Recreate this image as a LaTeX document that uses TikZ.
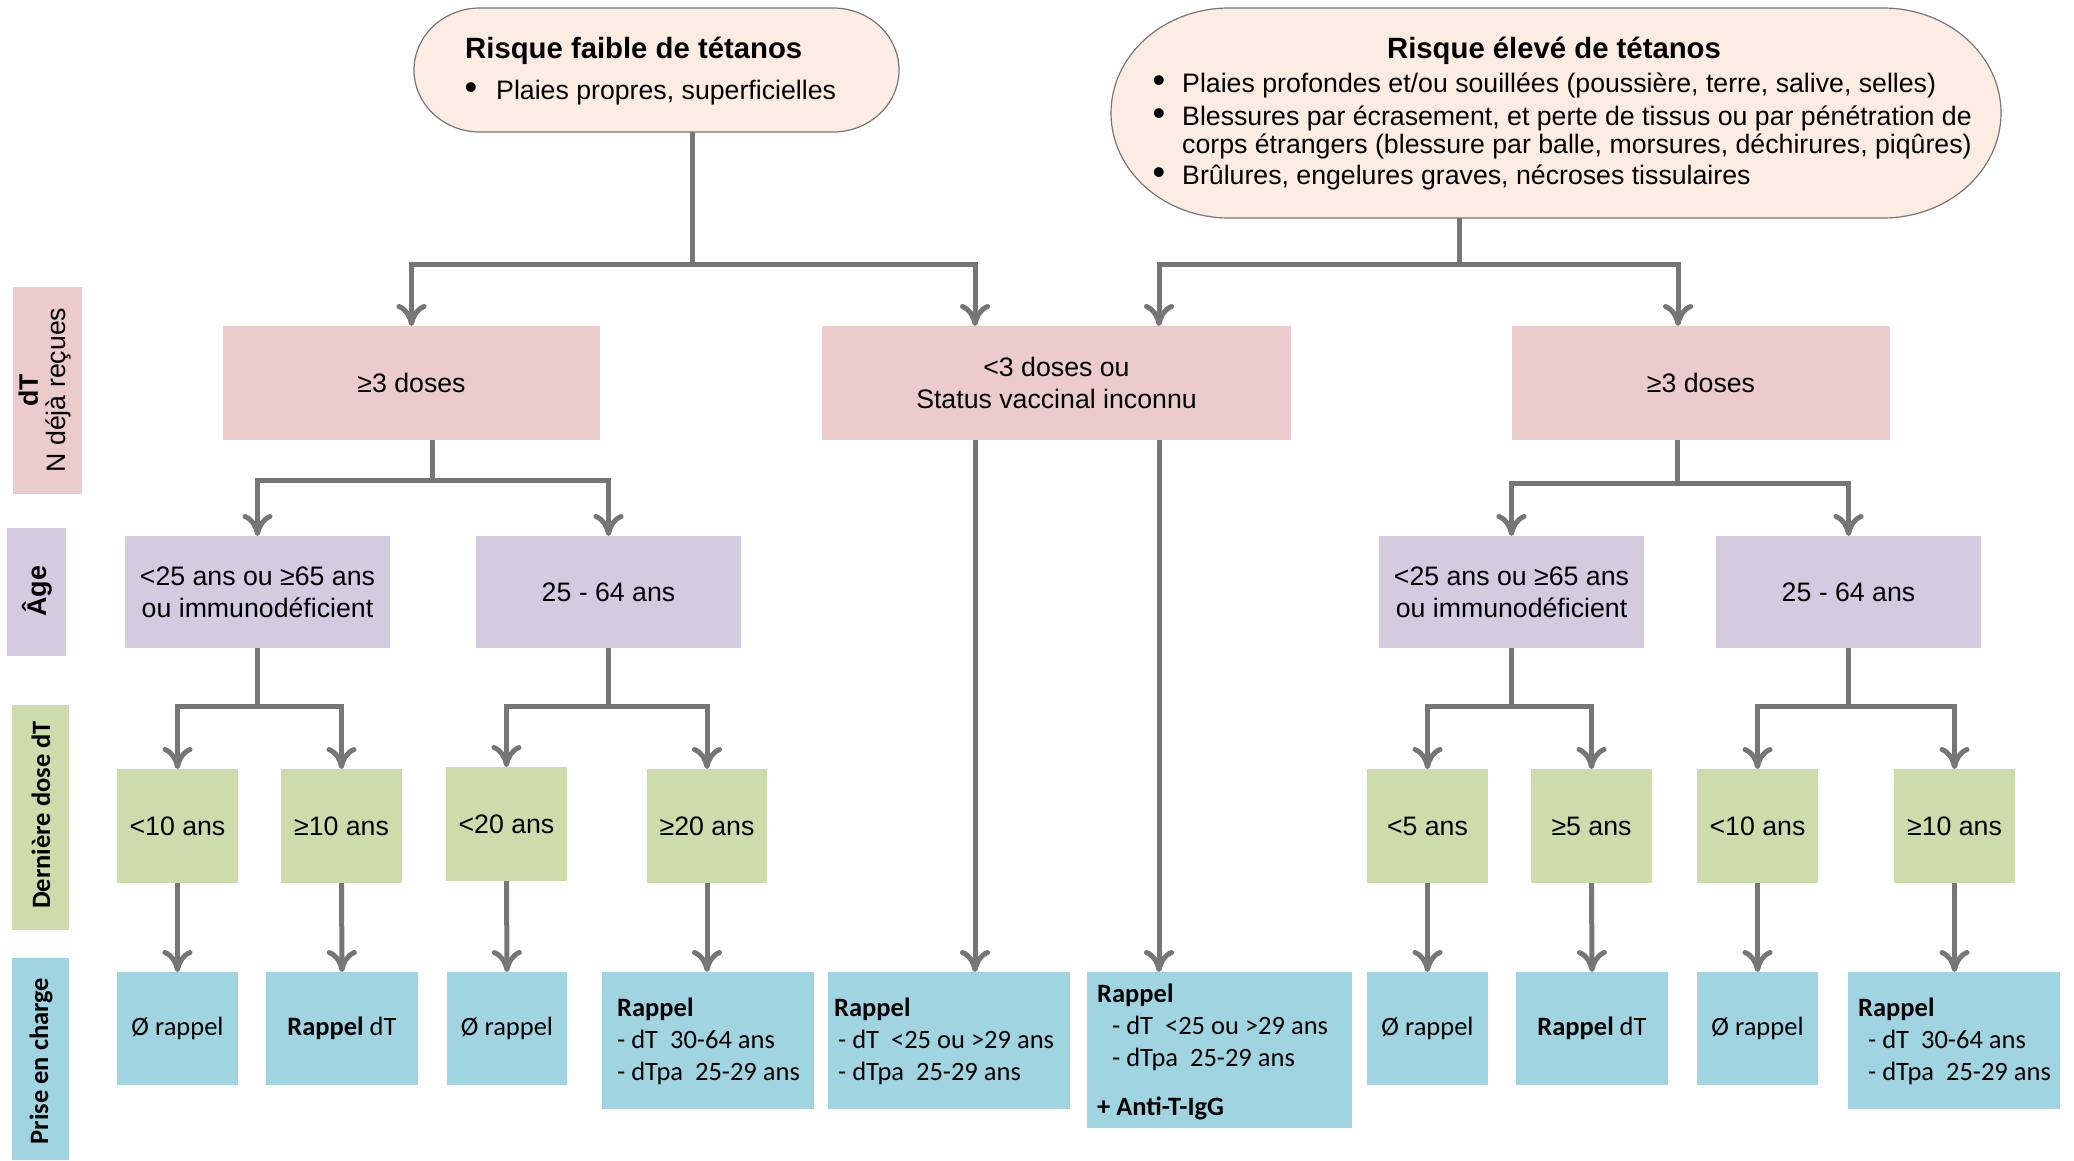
\documentclass[tikz,border=0pt]{standalone}
\usepackage{fontspec}
\setmainfont{Liberation Sans}
\newfontfamily\carlito{Carlito}
\usetikzlibrary{arrows.meta,fit,calc}
\definecolor{peach}{HTML}{FCECE1}
\definecolor{pinkc}{HTML}{EBCBCB}
\definecolor{purp}{HTML}{D3CBE0}
\definecolor{grn}{HTML}{CDDCAB}
\definecolor{blu}{HTML}{9FD4E0}
\definecolor{lin}{HTML}{767676}
\begin{document}
\begin{tikzpicture}[x=1pt,y=-1pt,
  bxs/.style={inner sep=0pt, outer sep=0pt},
  bx/.style={inner sep=0pt, outer sep=0pt, align=center, font=\fontsize{26.7}{32}\selectfont},
  cbx/.style={inner sep=0pt, outer sep=0pt, align=center, font=\carlito\fontsize{26.5}{32}\selectfont},
  topline/.style={fill=peach, draw=lin, line width=1.2pt},
  ln/.style={draw=lin, line width=5pt},
  arr/.style={ln, -{Computer Modern Rightarrow[length=22pt,width=30pt]}},
  lbl/.style={inner sep=0pt, align=center, font=\carlito\bfseries\fontsize{26.5}{30}\selectfont, rotate=90},
  bt/.style={inner sep=0pt, anchor=base west, font=\carlito\fontsize{26.5}{32}\selectfont},
  tt/.style={inner sep=0pt, font=\fontsize{26.7}{32}\selectfont},
  bul/.style={inner sep=0pt, anchor=base, font=\fontsize{36}{32}\selectfont},
  ht/.style={inner sep=0pt, font=\bfseries\fontsize{29.3}{34}\selectfont},
]
\useasboundingbox (0,0) rectangle (2074,1160);
% legend
\node[fit={(13,287)(82,494)}, bxs, fill=pinkc] (L1) {};
\node[fit={(7,528)(66,656)}, bxs, fill=purp] (L2) {};
\node[fit={(12,705)(69,930)}, bxs, fill=grn] (L3) {};
\node[fit={(12,958)(69,1160)}, bxs, fill=blu] (L4) {};
\node[inner sep=0pt, align=center, rotate=90, font=\fontsize{26.7}{28}\selectfont] (l1t) at (45,390) {\textbf{dT}\\N déjà reçues};
\node[inner sep=0pt, rotate=90, font=\bfseries\fontsize{27}{30}\selectfont] (l2t) at (37,591) {Âge};
\node[lbl] (l3t) at (41,815) {Dernière dose dT};
\node[lbl] (l4t) at (41,1061) {Prise en charge};
% top boxes
\node[fit={(414,8)(899,132)}, bxs] (T1) {};
\node[fit={(1111,8)(2001,218)}, bxs] (T2) {};
\draw[topline] ($(T1.north west)+(66,0)$) -- ($(T1.north east)+(-66,0)$)
  arc[start angle=90, end angle=-90, x radius=66pt, y radius=62pt]
  -- ($(T1.south west)+(66,0)$)
  arc[start angle=270, end angle=90, x radius=66pt, y radius=62pt] -- cycle;
\draw[topline] ($(T2.north west)+(118,0)$) -- ($(T2.north east)+(-118,0)$)
  arc[start angle=90, end angle=-90, x radius=118pt, y radius=105pt]
  -- ($(T2.south west)+(118,0)$)
  arc[start angle=270, end angle=90, x radius=118pt, y radius=105pt] -- cycle;
\node[ht, anchor=base west] (t1h) at (465,58) {Risque faible de tétanos};
\node[bul] (t1d) at (471,99) {•};
\node[tt, anchor=base west] (t1a) at (496,99) {Plaies propres, superficielles};
\node[ht, anchor=base] (t2h) at (1554,58) {Risque élevé de tétanos};
\node[bul] (t2d1) at (1159,92) {•};
\node[bul] (t2d2) at (1159,125) {•};
\node[bul] (t2d3) at (1159,184) {•};
\node[tt, anchor=base west] (t2a) at (1182,92) {Plaies profondes et/ou souillées (poussière, terre, salive, selles)};
\node[tt, anchor=base west] (t2b) at (1182,125) {Blessures par écrasement, et perte de tissus ou par pénétration de};
\node[tt, anchor=base west] (t2c) at (1182,153) {corps étrangers (blessure par balle, morsures, déchirures, piqûres)};
\node[tt, anchor=base west] (t2e) at (1182,184) {Brûlures, engelures graves, nécroses tissulaires};
% pink
\node[fit={(223,326)(600,440)}, bxs, fill=pinkc] (P1) {};
\node[fit={(822,326)(1291,440)}, bxs, fill=pinkc] (P2) {};
\node[fit={(1512,326)(1890,440)}, bxs, fill=pinkc] (P3) {};
\node[bx] (p1t) at (P1) {≥3 doses};
\node[bx] (p2t) at (P2) {<3 doses ou\\Status vaccinal inconnu};
\node[bx] (p3t) at (P3) {≥3 doses};
% purple
\node[fit={(125,536)(390,648)}, bxs, fill=purp] (A1) {};
\node[fit={(476,536)(741,648)}, bxs, fill=purp] (A2) {};
\node[fit={(1379,536)(1644,648)}, bxs, fill=purp] (A3) {};
\node[fit={(1716,536)(1981,648)}, bxs, fill=purp] (A4) {};
\node[bx] (a1t) at (A1) {<25 ans ou ≥65 ans\\ou immunodéficient};
\node[bx] (a2t) at (A2) {25 - 64 ans};
\node[bx] (a3t) at (A3) {<25 ans ou ≥65 ans\\ou immunodéficient};
\node[bx] (a4t) at (A4) {25 - 64 ans};
% green
\node[fit={(117,769)(238,883)}, bxs, fill=grn] (G1) {};
\node[fit={(281,769)(402,883)}, bxs, fill=grn] (G2) {};
\node[fit={(446,767)(567,881)}, bxs, fill=grn] (G3) {};
\node[fit={(647,769)(767,883)}, bxs, fill=grn] (G4) {};
\node[fit={(1367,769)(1488,883)}, bxs, fill=grn] (G5) {};
\node[fit={(1531,769)(1652,883)}, bxs, fill=grn] (G6) {};
\node[fit={(1697,769)(1818,883)}, bxs, fill=grn] (G7) {};
\node[fit={(1894,769)(2015,883)}, bxs, fill=grn] (G8) {};
\node[bx] (g1t) at (G1) {<10 ans};
\node[bx] (g2t) at (G2) {≥10 ans};
\node[bx] (g3t) at (G3) {<20 ans};
\node[bx] (g4t) at (G4) {≥20 ans};
\node[bx] (g5t) at (G5) {<5 ans};
\node[bx] (g6t) at (G6) {≥5 ans};
\node[bx] (g7t) at (G7) {<10 ans};
\node[bx] (g8t) at (G8) {≥10 ans};
% blue
\node[fit={(117,972)(238,1085)}, bxs, fill=blu] (B1) {};
\node[fit={(266,972)(418,1085)}, bxs, fill=blu] (B2) {};
\node[fit={(447,972)(567,1085)}, bxs, fill=blu] (B3) {};
\node[fit={(602,972)(814,1109)}, bxs, fill=blu] (B4) {};
\node[fit={(828,972)(1070,1109)}, bxs, fill=blu] (B5) {};
\node[fit={(1087,972)(1352,1128)}, bxs, fill=blu] (B6) {};
\node[fit={(1367,972)(1488,1085)}, bxs, fill=blu] (B7) {};
\node[fit={(1516,972)(1668,1085)}, bxs, fill=blu] (B8) {};
\node[fit={(1697,972)(1818,1085)}, bxs, fill=blu] (B9) {};
\node[fit={(1848,972)(2060,1109)}, bxs, fill=blu] (B10) {};
\node[cbx] (b1t) at (B1) {Ø rappel};
\node[cbx] (b2t) at (B2) {\textbf{Rappel} dT};
\node[cbx] (b3t) at (B3) {Ø rappel};
\node[cbx] (b7t) at (B7) {Ø rappel};
\node[cbx] (b8t) at (B8) {\textbf{Rappel} dT};
\node[cbx] (b9t) at (B9) {Ø rappel};
\node[bt] (b4a) at (617,1016) {\textbf{Rappel}};
\node[bt] (b4b) at (617,1048) {- dT\ \ 30-64 ans};
\node[bt] (b4c) at (617,1080) {- dTpa\ \ 25-29 ans};
\node[bt] (b5a) at (834,1016) {\textbf{Rappel}};
\node[bt] (b5b) at (838,1048) {- dT\ \ <25 ou >29 ans};
\node[bt] (b5c) at (838,1080) {- dTpa\ \ 25-29 ans};
\node[bt] (b6a) at (1097,1002) {\textbf{Rappel}};
\node[bt] (b6b) at (1112,1034) {- dT\ \ <25 ou >29 ans};
\node[bt] (b6c) at (1112,1066) {- dTpa\ \ 25-29 ans};
\node[bt] (b6d) at (1097,1115) {\textbf{+ Anti-T-IgG}};
\node[bt] (b10a) at (1858,1016) {\textbf{Rappel}};
\node[bt] (b10b) at (1868,1048) {- dT\ \ 30-64 ans};
\node[bt] (b10c) at (1868,1080) {- dTpa\ \ 25-29 ans};
% junction coordinates
\coordinate (j1) at (692,264);
\coordinate (j2) at (1459,264);
\coordinate (k1) at (975,0);
\coordinate (k2) at (1159,0);
\coordinate (k3) at (1678,0);
\coordinate (j3) at (432,480);
\coordinate (j4) at (1677,483);
\coordinate (j5) at (257.5,706);
\coordinate (j6) at (608.5,706);
\coordinate (j7) at (1511.5,706);
\coordinate (j8) at (1848.5,706);
% connectors
\draw[ln] (T1.south -| j1) -- (j1);
\draw[arr] (j1) -| (P1.north);
\draw[arr] (j1) -| (P2.north -| k1);
\draw[ln] (T2.south -| j2) -- (j2);
\draw[arr] (j2) -| (P2.north -| k2);
\draw[arr] (j2) -| (P3.north -| k3);
\draw[ln] (P1.south -| j3) -- (j3);
\draw[arr] (j3) -| (A1.north);
\draw[arr] (j3) -| (A2.north);
\draw[ln] (P3.south -| j4) -- (j4);
\draw[arr] (j4) -| (A3.north);
\draw[arr] (j4) -| (A4.north);
\draw[ln] (A1.south) -- (j5);
\draw[arr] (j5) -| (G1.north);
\draw[arr] (j5) -| (G2.north);
\draw[ln] (A2.south) -- (j6);
\draw[arr] (j6) -| (G3.north);
\draw[arr] (j6) -| (G4.north);
\draw[ln] (A3.south) -- (j7);
\draw[arr] (j7) -| (G5.north);
\draw[arr] (j7) -| (G6.north);
\draw[ln] (A4.south) -- (j8);
\draw[arr] (j8) -| (G7.north);
\draw[arr] (j8) -| (G8.north);
\draw[arr] (G1.south) -- (B1.north);
\draw[arr] (G2.south) -- (B2.north);
\draw[arr] (G3.south) -- (B3.north);
\draw[arr] (G4.south) -- (B4.north -| G4.south);
\draw[arr] (G5.south) -- (B7.north);
\draw[arr] (G6.south) -- (B8.north);
\draw[arr] (G7.south) -- (B9.north);
\draw[arr] (G8.south) -- (B10.north -| G8.south);
\draw[arr] (P2.south -| k1) -- (B5.north -| k1);
\draw[arr] (P2.south -| k2) -- (B6.north -| k2);
\end{tikzpicture}
\end{document}
